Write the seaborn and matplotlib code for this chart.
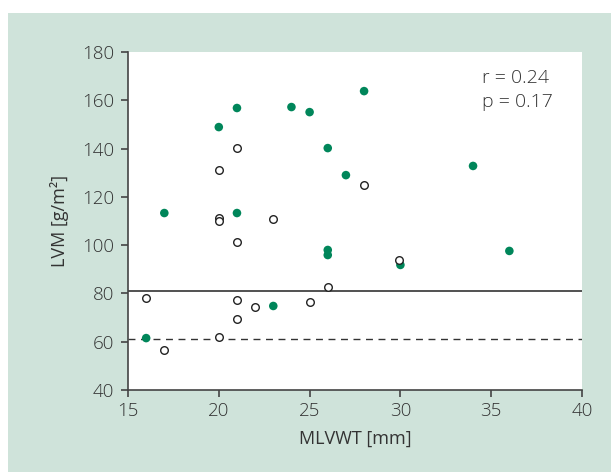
import numpy as np
import pandas as pd
import matplotlib.pyplot as plt
import matplotlib.patches as mpatches
import seaborn as sns

# filled (green) points
filled_x = [16, 17, 20, 21, 21, 23, 24, 25, 26, 26, 26, 27, 28, 30, 34, 36]
filled_y = [61.5, 113.3, 148.9, 156.8, 113.3, 74.8, 157.2, 155.1, 140.2, 98, 95.9, 129, 163.8, 91.8, 132.8, 97.6]

# open points
open_x = [16, 17, 20, 20, 20, 20, 21, 21, 21, 21, 22, 23, 25, 26, 28, 29.9]
open_y = [78.1, 56.6, 131.1, 111.2, 110, 62, 140.2, 101.3, 77.3, 69.4, 74.4, 110.8, 76.4, 82.6, 124.9, 93.8]

solid_ref = 81
dashed_ref = 61
r_text = "r = 0.24"
p_text = "p = 0.17"

green = "#00865a"
bg = "#cfe3da"
txt = "#333333"

df = pd.DataFrame({
    "MLVWT": filled_x + open_x,
    "LVM": filled_y + open_y,
    "group": ["filled"] * len(filled_x) + ["open"] * len(open_x),
})

sns.set_style("ticks")
plt.rcParams['font.family'] = ['Open Sans', 'DejaVu Sans']
plt.rcParams['font.weight'] = 'light'

fig = plt.figure(figsize=(6.11, 4.72), dpi=100)
fig.add_artist(mpatches.Rectangle((8 / 611, 0), 1, 1 - 13 / 472, transform=fig.transFigure,
                                  facecolor=bg, edgecolor='none', zorder=-10))
ax = fig.add_axes([128 / 611, 82 / 472, 454 / 611, 338 / 472])
ax.set_facecolor('white')
ax.set_zorder(1)

ax.axhline(solid_ref, color='#333333', lw=1.2, zorder=1)
ax.axhline(dashed_ref, color='#333333', lw=1.0, ls=(0, (5, 4)), zorder=1)

sns.scatterplot(data=df[df.group == "filled"], x="MLVWT", y="LVM", ax=ax,
                color=green, s=38, edgecolor='none', zorder=3, legend=False)
sns.scatterplot(data=df[df.group == "open"], x="MLVWT", y="LVM", ax=ax,
                facecolor='white', edgecolor='#222222', linewidth=1.0, s=30, zorder=4, legend=False)

ax.set_xlim(15, 40)
ax.set_ylim(40, 180)
ax.set_xticks(np.arange(15, 41, 5))
ax.set_yticks(np.arange(40, 181, 20))
for s in ['top', 'right']:
    ax.spines[s].set_visible(False)
for s in ['left', 'bottom']:
    ax.spines[s].set_color('#444444')
    ax.spines[s].set_linewidth(1.2)
ax.tick_params(direction='out', length=5, width=1.2, color='#444444', labelsize=13.5, labelcolor=txt)
ax.tick_params(axis='y', pad=5)
ax.tick_params(axis='x', pad=4)

ax.set_xlabel("MLVWT [mm]", fontsize=13, color=txt, labelpad=7)
ax.set_ylabel("LVM [g/m²]", fontsize=13, color=txt, labelpad=9)

ax.text(34.5, 167.2, r_text, fontsize=14, color=txt, va='baseline', ha='left')
ax.text(34.5, 157.2, p_text, fontsize=14, color=txt, va='baseline', ha='left')

fig.savefig("out.png", dpi=100, facecolor='white')
